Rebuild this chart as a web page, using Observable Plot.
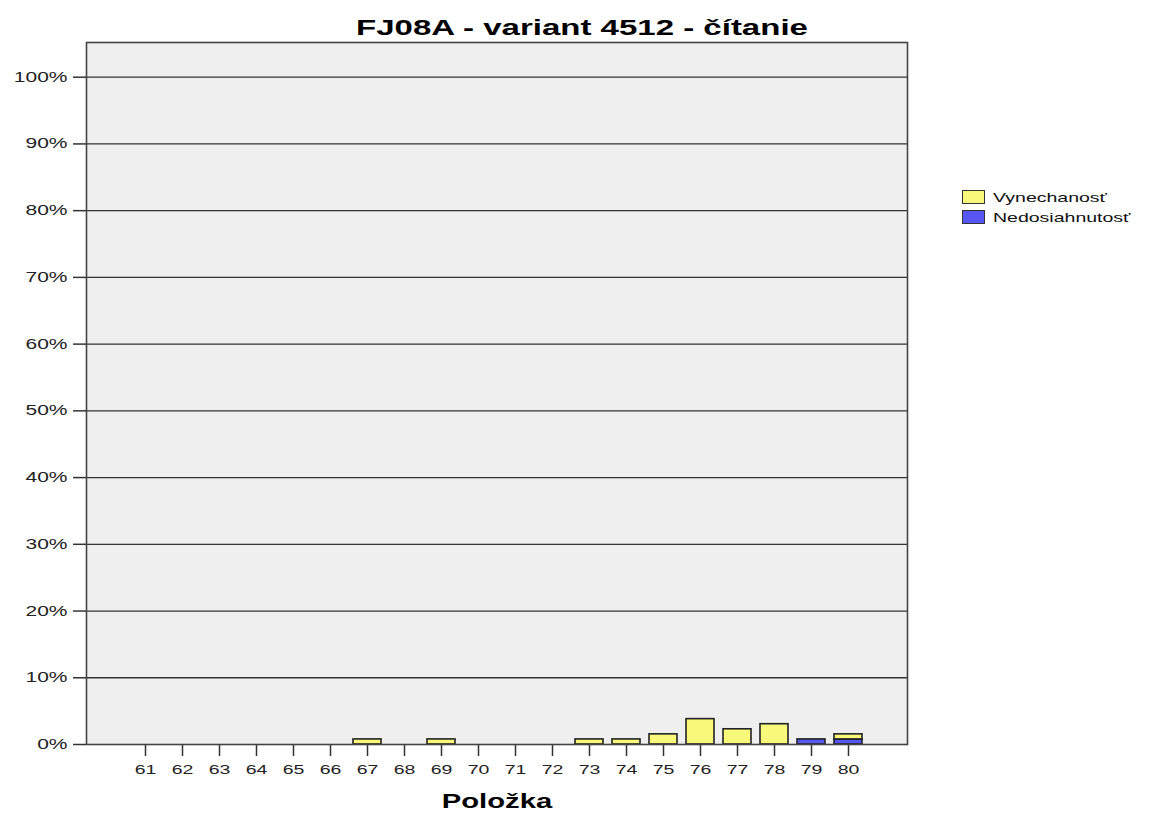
<!DOCTYPE html>
<html>
<head>
<meta charset="utf-8">
<script src="https://cdn.jsdelivr.net/npm/d3@7"></script>
<script src="https://cdn.jsdelivr.net/npm/@observablehq/plot@0.6"></script>
<style>
  body { margin: 0; background: #fff; font-family: "Liberation Sans", Arial, sans-serif; }
  #wrap { position: relative; width: 1155px; height: 815px; overflow: hidden; }
  #title { position: absolute; left: 582px; top: 15px; white-space: nowrap; font-weight: bold; font-size: 22px; color: #000;
           transform: translateX(-75%) scaleX(1.5); transform-origin: 0 0; }
  #legend { position: absolute; left: 962px; top: 187px; font-size: 13px; color: #111; }
  .li { display: flex; align-items: center; height: 20px; }
  .sw { width: 23px; height: 14px; border: 1.5px solid #333; box-sizing: border-box; margin-right: 8px; flex: none; }
  .li span { display: inline-block; transform: scaleX(1.5); transform-origin: 0 50%; }
  #chart { position: absolute; left: 0; top: 0; }
</style>
</head>
<body>
<div id="wrap">
  <div id="chart"></div>
  <div id="title"></div>
  <div id="legend"></div>
</div>
<script>
const titleText = "FJ08A - variant 4512 - čítanie";
const items = ["61","62","63","64","65","66","67","68","69","70","71","72","73","74","75","76","77","78","79","80"];
const vynechanost = [0,0,0,0,0,0,0.76,0,0.76,0,0,0,0.76,0.76,1.52,3.8,2.28,3.04,0,0.76];
const nedosiahnutost = [0,0,0,0,0,0,0,0,0,0,0,0,0,0,0,0,0,0,0.76,0.76];
const seriesNames = ["Vynechanosť","Nedosiahnutosť"];
const seriesColors = ["#f8f87a","#5656f2"];
const yTicks = [0,10,20,30,40,50,60,70,80,90,100];
const xLabel = "Položka";

const rows = [];
items.forEach((it, i) => {
  if (nedosiahnutost[i] > 0) rows.push({item: it, series: seriesNames[1], value: nedosiahnutost[i]});
  if (vynechanost[i] > 0) rows.push({item: it, series: seriesNames[0], value: vynechanost[i]});
});

const chart = Plot.plot({
  width: 1155,
  height: 815,
  marginTop: 42,
  marginLeft: 86,
  marginRight: 248,
  marginBottom: 71,
  style: {fontFamily: "'Liberation Sans', Arial, sans-serif", fontSize: "13px", color: "#222", background: "transparent"},
  x: {type: "band", domain: items, paddingInner: 0.24, paddingOuter: 1.21, label: null},
  y: {domain: [0, 105.2], label: null},
  color: {domain: seriesNames, range: seriesColors},
  marks: [
    Plot.frame({fill: "#efefef", stroke: "none"}),
    Plot.ruleY(yTicks.filter(d => d > 0), {stroke: "#333", strokeWidth: 1.3}),
    Plot.barY(rows, {x: "item", y: "value", fill: "series", z: "series", order: [seriesNames[1], seriesNames[0]], stroke: "#222", strokeWidth: 1.6}),
    Plot.axisY({ticks: yTicks, tickFormat: d => d + "%", tickSize: 13, tickPadding: 6, fontSize: 14, stroke: "#333", strokeWidth: 1.5, fill: "#222"}),
    Plot.axisX({tickSize: 12, tickPadding: 8, fontSize: 13, stroke: "#333", strokeWidth: 1.5, fill: "#222"}),
    Plot.frame({stroke: "#444", strokeWidth: 1.6, fill: "none"}),
    Plot.text([xLabel], {frameAnchor: "bottom", dy: 63, fontSize: 19.5, fontWeight: "bold", fill: "#000", text: d => d})
  ]
});
// widen glyphs horizontally to match the reference's stretched lettering
chart.querySelectorAll("text").forEach(t => {
  const tr = t.getAttribute("transform");
  if (tr) t.setAttribute("transform", tr + " scale(1.5,1)");
  else t.setAttribute("transform", "scale(1.5,1)");
});
document.getElementById("chart").appendChild(chart);

document.getElementById("title").textContent = titleText;

const legend = document.getElementById("legend");
seriesNames.forEach((n, i) => {
  const row = document.createElement("div");
  row.className = "li";
  const sw = document.createElement("div");
  sw.className = "sw";
  sw.style.background = seriesColors[i];
  const t = document.createElement("span");
  t.textContent = n;
  row.appendChild(sw); row.appendChild(t);
  legend.appendChild(row);
});
</script>
</body>
</html>
